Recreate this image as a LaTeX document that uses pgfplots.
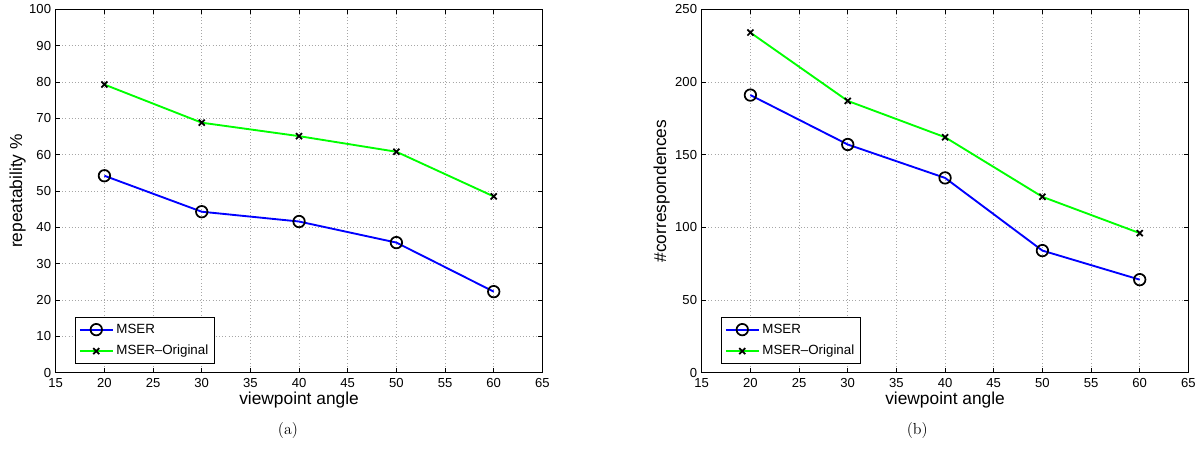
\documentclass[border=0pt]{standalone}
\usepackage{pgfplots}
\pgfplotsset{compat=1.18}
\usepackage{fontspec}
\newfontfamily\hv{Liberation Sans}
\definecolor{mblue}{rgb}{0,0,1}
\definecolor{mgreen}{rgb}{0,1,0}
\begin{document}
\begin{tikzpicture}
\path[use as bounding box] (0pt,0pt) rectangle (903pt,343.5pt);
\pgfplotsset{
  mstyle/.style={
    scale only axis,
    width=365pt, height=272.5pt,
    xmin=15, xmax=65,
    xtick={15,20,...,65},
    grid=major,
    major grid style={dotted, gray!70, line width=0.5pt},
    tick style={black, line width=0.4pt},
    axis line style={line width=0.6pt},
    tick align=inside,
    major tick length=3.5pt,
    /pgf/number format/assume math mode=true,
    ticklabel style={font=\hv\fontsize{9.8}{10}\selectfont},
    xticklabel style={yshift=-0.5pt},
    label style={font=\hv\fontsize{13}{14}\selectfont},
    xlabel={viewpoint angle},
    xlabel style={at={(axis description cs:0.5,-0.0765)}, anchor=center},
    legend cell align=left,
    legend style={font=\hv\fontsize{10}{11}\selectfont, draw=black, line width=0.5pt,
      inner xsep=2.5pt, inner ysep=3pt, row sep=3.5pt,
      at={(0.040,0.024)}, anchor=south west},
    legend image code/.code={
      \draw[#1] (0cm,0cm) -- (0.87cm,0cm);
      \draw[#1, only marks] plot coordinates {(0.435cm,0cm)};
    },
  }
}
\begin{axis}[mstyle, at={(41.8pt,64pt)}, anchor=south west,
  ymin=0, ymax=100, ytick={0,10,...,100},
  ylabel={repeatability \%},
  ylabel style={at={(axis description cs:-0.0785,0.5)}, anchor=center}]
\addplot[mblue, line width=1.4pt, mark=o, mark size=4.3pt, mark options={black, line width=1.3pt}]
  coordinates {(20,54.2) (30,44.3) (40,41.6) (50,35.8) (60,22.3)};
\addlegendentry{MSER}
\addplot[mgreen, line width=1.4pt, mark=x, mark size=3.2pt, mark options={black, line width=1.3pt}]
  coordinates {(20,79.3) (30,68.8) (40,65.1) (50,60.8) (60,48.5)};
\addlegendentry{MSER–Original}
\end{axis}
\begin{axis}[mstyle, at={(526.3pt,64pt)}, anchor=south west,
  ymin=0, ymax=250, ytick={0,50,...,250},
  ylabel={\#correspondences},
  ylabel style={at={(axis description cs:-0.0826,0.5)}, anchor=center}]
\addplot[mblue, line width=1.4pt, mark=o, mark size=4.3pt, mark options={black, line width=1.3pt}]
  coordinates {(20,191) (30,157) (40,134) (50,84) (60,64)};
\addlegendentry{MSER}
\addplot[mgreen, line width=1.4pt, mark=x, mark size=3.2pt, mark options={black, line width=1.3pt}]
  coordinates {(20,234) (30,187) (40,162) (50,121) (60,96)};
\addlegendentry{MSER–Original}
\end{axis}
\node[font=\fontsize{12}{14}\selectfont] at (216pt,20.25pt) {(a)};
\node[font=\fontsize{12}{14}\selectfont] at (688pt,20.25pt) {(b)};
\end{tikzpicture}
\end{document}
